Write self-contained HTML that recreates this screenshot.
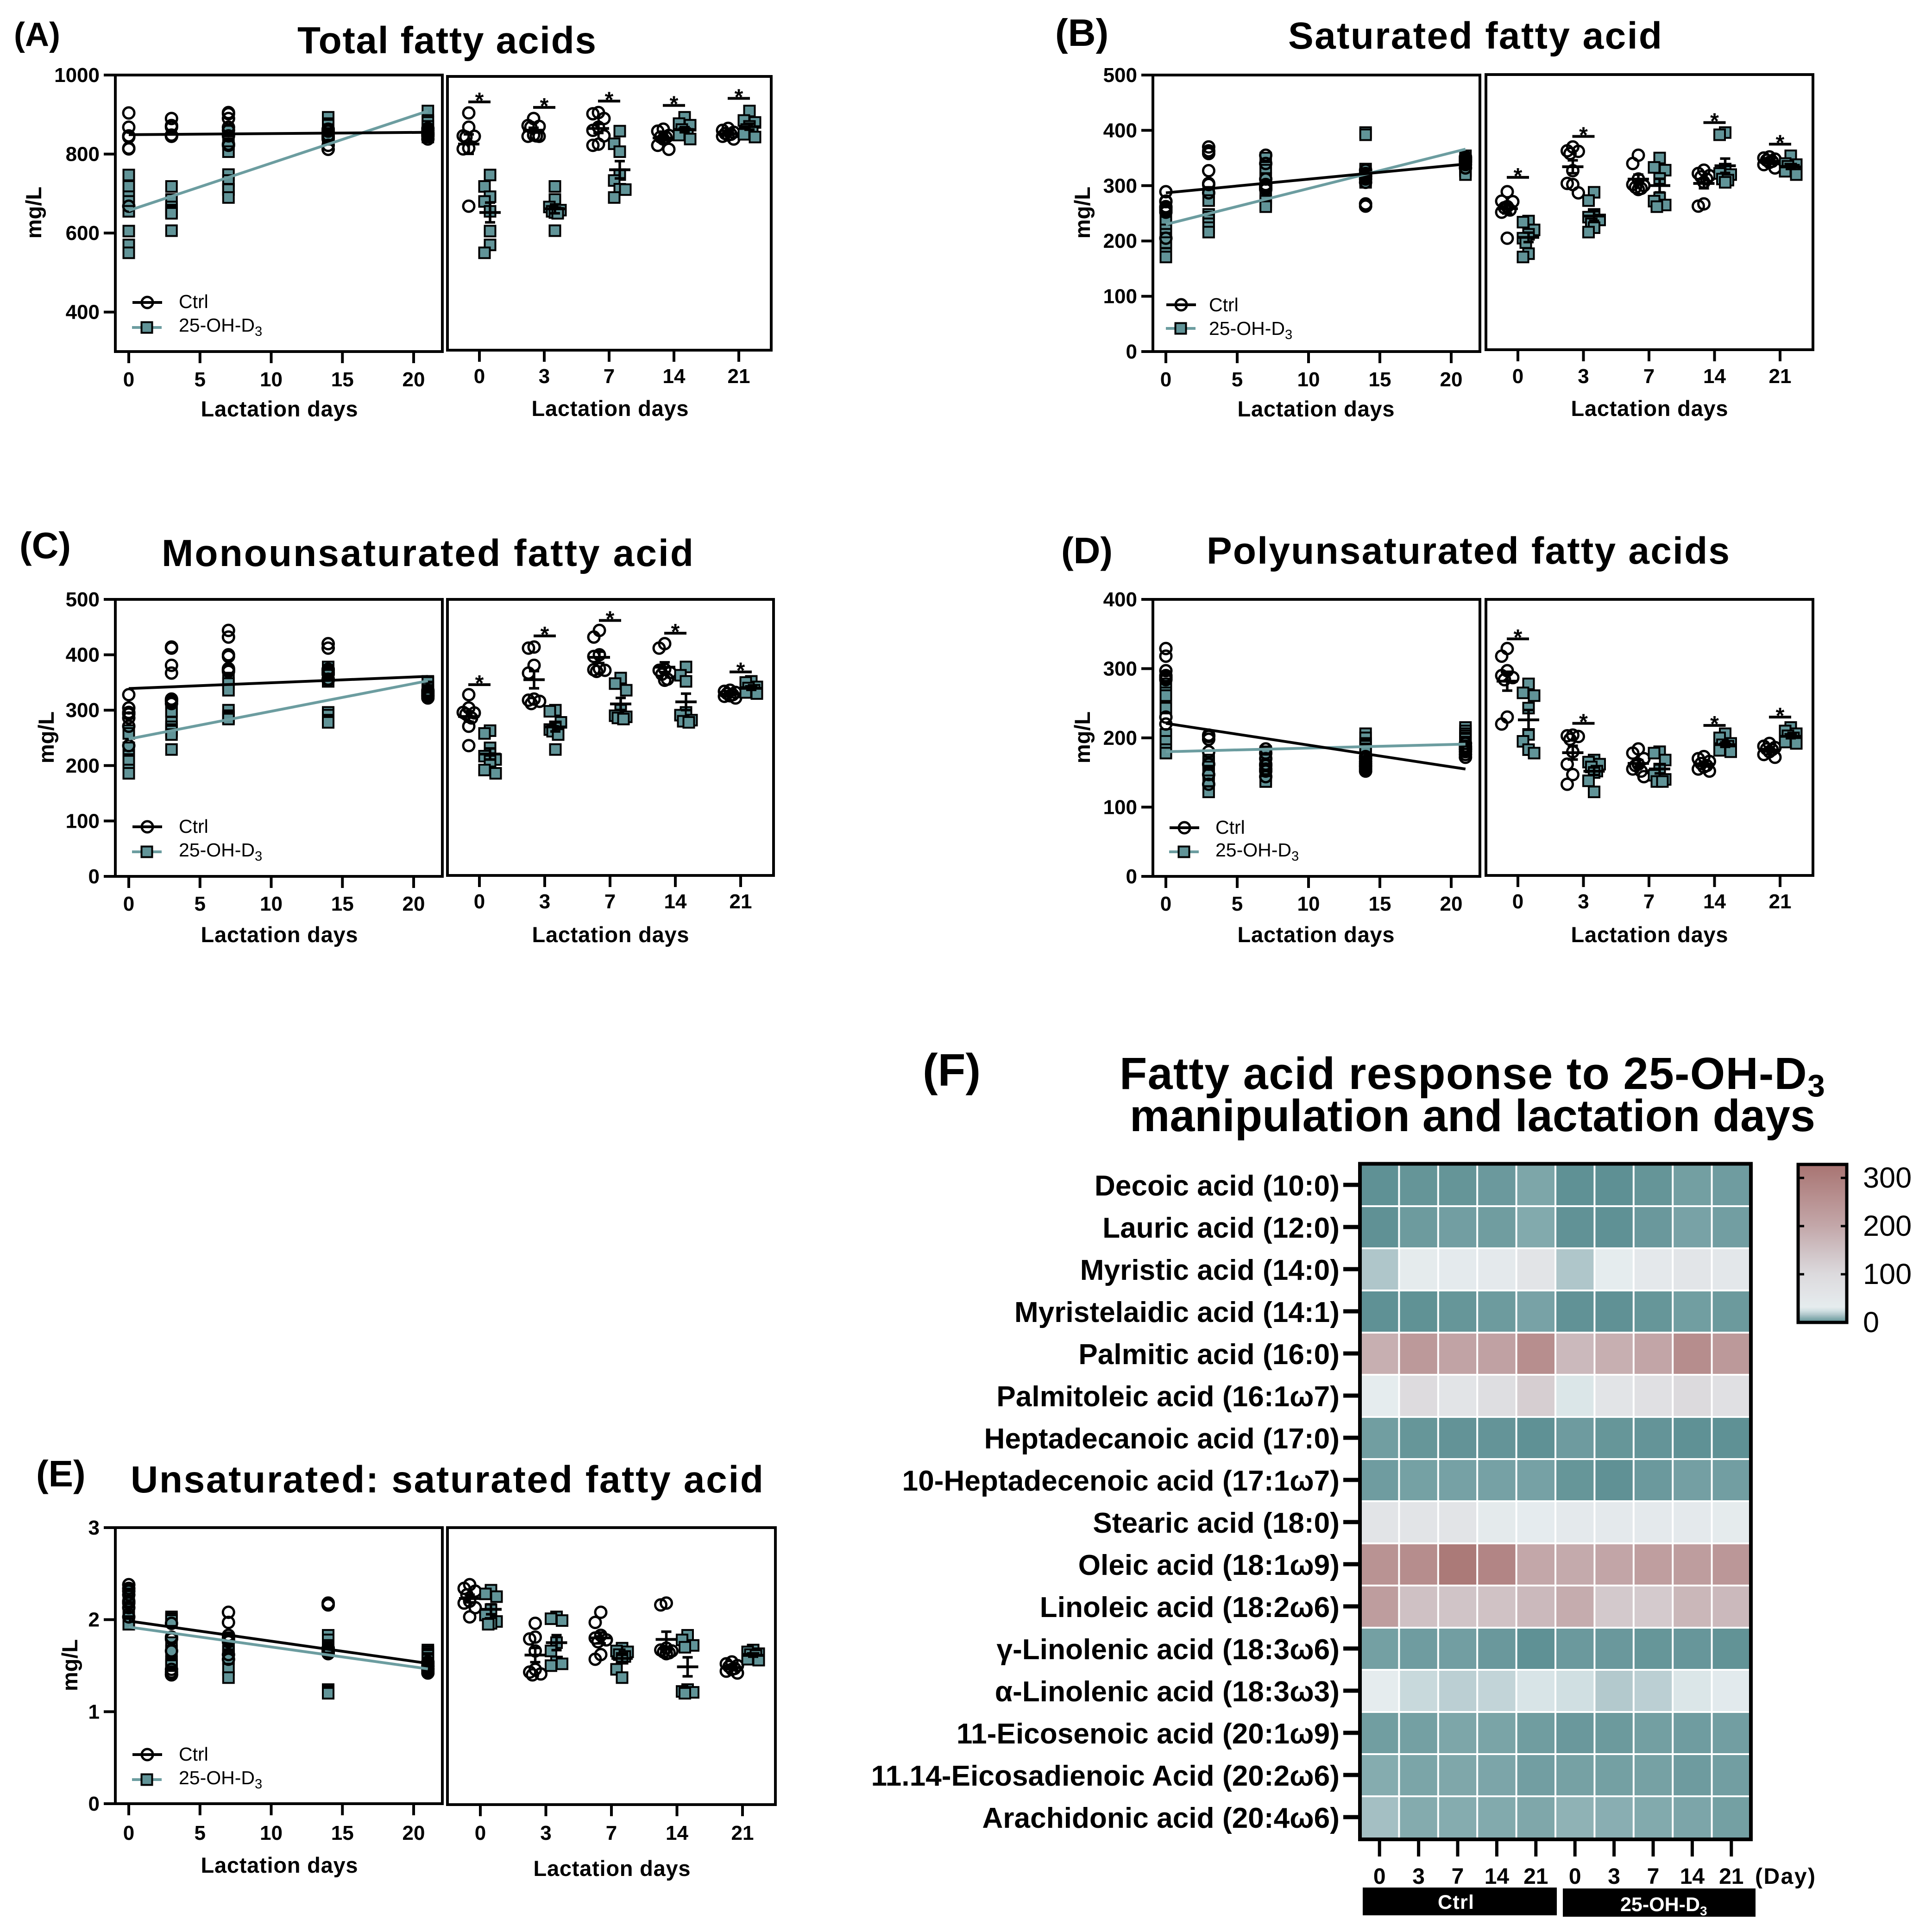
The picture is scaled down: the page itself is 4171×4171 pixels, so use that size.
<!DOCTYPE html>
<html lang="en">
<head>
<meta charset="utf-8">
<title>Milk fatty acid response to 25-OH-D3 and lactation days</title>
<style>
html,body{margin:0;padding:0;background:#fff;}
svg{display:block;}
text{font-family:"Liberation Sans",Arial,sans-serif;fill:#000;}
.t{font-weight:700;font-size:82px;}
.ax{font-weight:700;font-size:47px;}
.lg{font-size:41px;}
.pl{font-weight:700;}
</style>
</head>
<body>
<svg id="figure" xmlns="http://www.w3.org/2000/svg" width="4171" height="4171" viewBox="0 0 4171 4171">
<defs><linearGradient id="cbGrad" x1="0" y1="1" x2="0" y2="0"></linearGradient></defs>
<rect x="0" y="0" width="4171" height="4171" fill="#fff"/>

<text class="pl" font-size="72" x="30" y="99">(A)</text>
<text class="t" x="642" y="115" textLength="645">Total fatty acids</text>
<text class="ax" transform="translate(89,459) rotate(-90)" text-anchor="middle">mg/L</text>
<text class="ax" x="603" y="899" text-anchor="middle" textLength="339">Lactation days</text>
<text class="ax" x="1317" y="898" text-anchor="middle" textLength="339">Lactation days</text>

<text class="pl" font-size="83" x="2278" y="99">(B)</text>
<text class="t" x="2781" y="105" textLength="807">Saturated fatty acid</text>
<text class="ax" transform="translate(2353,459) rotate(-90)" text-anchor="middle">mg/L</text>
<text class="ax" x="2841" y="899" text-anchor="middle" textLength="339">Lactation days</text>
<text class="ax" x="3561" y="898" text-anchor="middle" textLength="339">Lactation days</text>

<text class="pl" font-size="80" x="42" y="1205">(C)</text>
<text class="t" x="349" y="1222" textLength="1148">Monounsaturated fatty acid</text>
<text class="ax" transform="translate(116,1592) rotate(-90)" text-anchor="middle">mg/L</text>
<text class="ax" x="603" y="2034" text-anchor="middle" textLength="339">Lactation days</text>
<text class="ax" x="1318" y="2034" text-anchor="middle" textLength="339">Lactation days</text>

<text class="pl" font-size="80" x="2291" y="1216">(D)</text>
<text class="t" x="2605" y="1217" textLength="1129">Polyunsaturated fatty acids</text>
<text class="ax" transform="translate(2353,1592) rotate(-90)" text-anchor="middle">mg/L</text>
<text class="ax" x="2841" y="2034" text-anchor="middle" textLength="339">Lactation days</text>
<text class="ax" x="3561" y="2034" text-anchor="middle" textLength="339">Lactation days</text>

<text class="pl" font-size="80" x="78" y="3209">(E)</text>
<text class="t" x="282" y="3222" textLength="1366">Unsaturated: saturated fatty acid</text>
<text class="ax" transform="translate(167,3595) rotate(-90)" text-anchor="middle">mg/L</text>
<text class="ax" x="603" y="4043" text-anchor="middle" textLength="339">Lactation days</text>
<text class="ax" x="1321" y="4050" text-anchor="middle" textLength="339">Lactation days</text>

<g><text class="lg" x="386" y="665">Ctrl</text><text class="lg" x="386" y="716">25-OH-D<tspan font-size="29" dy="9">3</tspan></text></g>
<g><text class="lg" x="2610" y="672">Ctrl</text><text class="lg" x="2610" y="723">25-OH-D<tspan font-size="29" dy="9">3</tspan></text></g>
<g><text class="lg" x="386" y="1798">Ctrl</text><text class="lg" x="386" y="1849">25-OH-D<tspan font-size="29" dy="9">3</tspan></text></g>
<g><text class="lg" x="2624" y="1800">Ctrl</text><text class="lg" x="2624" y="1849">25-OH-D<tspan font-size="29" dy="9">3</tspan></text></g>
<g><text class="lg" x="386" y="3801">Ctrl</text><text class="lg" x="386" y="3852">25-OH-D<tspan font-size="29" dy="9">3</tspan></text></g>

<text x="1992" y="2344" font-weight="700" font-size="98">(F)</text>
<text x="2417" y="2351" font-weight="700" font-size="97" letter-spacing="1.35">Fatty acid response to 25-OH-D<tspan font-size="68" dy="16">3</tspan></text>
<text x="2439" y="2442" font-weight="700" font-size="97" textLength="1480">manipulation and lactation days</text>
<text x="3789" y="4067" font-weight="700" font-size="48" textLength="130">(Day)</text>
<rect x="2942" y="4075" width="419" height="60" fill="#000"/>
<rect x="3374" y="4077" width="416" height="61" fill="#000"/>
<text x="3143" y="4121" text-anchor="middle" font-weight="700" font-size="43" textLength="78" style="fill:#fff">Ctrl</text>
<text x="3498" y="4126" font-weight="700" font-size="43" style="fill:#fff">25-OH-D<tspan font-size="28" dy="9">3</tspan></text>
</svg>

<script>
// ---------- shared categories ----------
const days = [0, 3, 7, 14, 21];
const dayLabels = ['0', '3', '7', '14', '21'];
const leftXTicks = [0, 5, 10, 15, 20];

// ---------- (A) total fatty acids ----------
const totalCtrl = [[904,868,846,845,843,815,813,668],[890,872,870,868,848,846,845,845],[905,902,890,868,860,846,825,822],[863,858,847,843,842,838,822,812],[865,860,855,852,850,848,845,838]];
const totalTrt = [[747,718,692,680,655,605,570,550],[718,685,666,658,655,652,650,606],[858,826,806,748,733,711,710,690],[893,877,873,862,852,850,848,838],[909,885,880,870,862,855,850,843]];
const totalCtrlFit = [849, 855];
const totalTrtFit = [657, 909];
const totalSig = [932, 918, 934, 923, 941];
const totalYTicks = [400, 600, 800, 1000];

// ---------- (B) saturated ----------
const satCtrl = [[289,272,271,262,260,256,252,205],[370,363,362,358,327,304,302,287],[355,340,312,302,300,297,295,293],[328,322,318,316,312,306,267,263],[352,350,348,346,344,342,338,332]];
const satTrt = [[236,234,220,212,205,197,177,171],[288,273,248,243,238,231,224,216],[350,333,328,313,278,272,265,262],[396,392,330,322,320,312,310,306],[354,340,338,335,330,328,326,320]];
const satCtrlFit = [287, 339];
const satTrtFit = [230, 366];
const satSig = [315, 389, null, 414, 375];
const satYTicks = [0, 100, 200, 300, 400, 500];

// ---------- (C) monounsaturated ----------
const monoCtrl = [[328,304,296,295,293,286,271,236],[414,412,381,367,320,318,316,312],[444,432,400,397,375,373,372,370],[420,412,374,372,368,365,356,354],[336,334,332,330,328,326,325,322]];
const monoTrt = [[263,258,232,217,211,208,192,186],[300,298,278,270,265,262,256,229],[358,348,336,300,290,288,286,284],[378,363,352,296,291,282,280,278],[352,350,342,340,336,334,332,330]];
const monoCtrlFit = [339, 361];
const monoTrtFit = [248, 353];
const monoSig = [346, 434, 462, 439, 369];
const monoYTicks = [0, 100, 200, 300, 400, 500];

// ---------- (D) polyunsaturated ----------
const polyCtrl = [[329,318,297,290,287,284,230,220],[204,203,202,198,180,162,147,133],[184,178,170,162,160,155,152,144],[173,170,166,163,160,158,155,152],[192,188,186,184,183,180,176,172]];
const polyTrt = [[278,265,261,243,205,195,183,178],[168,165,162,158,152,150,138,122],[180,178,168,155,146,140,137,137],[206,200,192,190,188,184,182,180],[215,210,206,203,200,198,194,192]];
const polyCtrlFit = [221, 155];
const polyTrtFit = [180, 191];
const polySig = [343, 221, null, 218, 230];
const polyYTicks = [0, 100, 200, 300, 400];

// ---------- (E) unsaturated : saturated ----------
const ratioCtrl = [[2.38,2.34,2.31,2.27,2.20,2.18,2.13,2.03],[1.96,1.81,1.79,1.66,1.46,1.43,1.41,1.40],[2.08,1.97,1.83,1.80,1.78,1.76,1.62,1.57],[2.18,2.16,1.69,1.67,1.66,1.65,1.64,1.63],[1.54,1.52,1.50,1.49,1.47,1.46,1.44,1.42]];
const ratioTrt = [[2.32,2.28,2.25,2.11,2.05,1.98,1.96,1.95],[2.03,2.01,1.99,1.75,1.66,1.54,1.52,1.50],[1.69,1.66,1.65,1.62,1.60,1.58,1.46,1.37],[1.83,1.78,1.72,1.70,1.24,1.22,1.21,1.20],[1.67,1.65,1.63,1.62,1.61,1.58,1.57,1.56]];
const ratioCtrlFit = [1.985, 1.525];
const ratioTrtFit = [1.92, 1.465];
const ratioSig = [null, null, null, null, null];
const ratioYTicks = [0, 1, 2, 3];

// ---------- (F) heatmap ----------
const acidNames = ['Decoic acid (10:0)','Lauric acid (12:0)','Myristic acid (14:0)','Myristelaidic acid (14:1)','Palmitic acid (16:0)','Palmitoleic acid (16:1ω7)','Heptadecanoic acid (17:0)','10-Heptadecenoic acid (17:1ω7)','Stearic acid (18:0)','Oleic acid (18:1ω9)','Linoleic acid (18:2ω6)','γ-Linolenic acid (18:3ω6)','α-Linolenic acid (18:3ω3)','11-Eicosenoic acid (20:1ω9)','11.14-Eicosadienoic Acid (20:2ω6)','Arachidonic acid (20:4ω6)'];
const heatDayLabels = ['0','3','7','14','21','0','3','7','14','21'];
const heatValues = [
[1,2,2,3.2,6.7,1,0.8,2,4.8,4],
[1.1,3.6,4.6,4.2,7.6,1.3,1,3,5.7,4.6],
[16,36,38,42,60,16,32,45,58,50],
[1,1.2,2.3,3.6,5.7,1.3,1.1,2.3,4.4,3.4],
[185,235,210,215,262,165,185,205,265,235],
[32,95,62,85,125,28,60,75,100,75],
[4.4,2.3,1.7,1.9,1,3.8,2.3,1.9,1,1],
[4,5.2,5.4,5.4,5.4,2.3,1.1,3.2,4.9,4.6],
[62,60,60,40,34,42,42,42,42,36],
[250,265,315,285,200,195,205,222,225,240],
[225,150,145,148,165,190,135,132,170,165],
[5,4,4.6,3,1,3.2,3,2.3,2.5,1.5],
[32,22,19,20.5,27,24,17,19,28,31],
[4.4,5,6.7,6,4.2,3,3.4,4.8,4,4.6],
[8.2,6.3,7,6.5,4.6,5.3,5,5.3,3.8,4.6],
[14,8,8.2,7.7,7,10,9,7.7,6.5,5]
];
const colorbarTicks = [0, 100, 200, 300];
const colorStopValues = [0, 8, 16, 24, 32, 60, 100, 150, 200, 260, 330];
const colorStopColors = ['#5a8d91','#84abae','#afc6ca','#d0dfe2','#e5ecee','#e2e4e7','#dcdadd','#cfc1c4','#c3a7a9','#b78f8f','#a87472'];

// ---------- drawing ----------
const NS = 'http://www.w3.org/2000/svg';
const svg = document.getElementById('figure');
const TEAL = '#619498';
const TEAL_LINE = '#6c9da0';
const R_CIRCLE = 12;
const SQ = 23;

function mk(tag, attrs, parent) {
  const node = document.createElementNS(NS, tag);
  for (const k in attrs) node.setAttribute(k, attrs[k]);
  parent.appendChild(node);
  return node;
}
function mean(a) { return a.reduce(function (s, v) { return s + v; }, 0) / a.length; }
function sem(a) {
  const m = mean(a);
  const ss = a.reduce(function (s, v) { return s + (v - m) * (v - m); }, 0);
  return Math.sqrt(ss / (a.length - 1)) / Math.sqrt(a.length);
}
// Lane-based swarm: a point takes the first lane with vertical clearance,
// otherwise the lane whose nearest neighbour is farthest away.
function swarm(vals, yFn) {
  const lanes = [0, -12, 12, -6, 6], clearance = 28, placed = [], out = [];
  const order = vals.map(function (v, i) { return i; }).sort(function (a, b) { return vals[b] - vals[a]; });
  order.forEach(function (i) {
    const y = yFn(vals[i]);
    let dx = 0, bestGap = -1;
    for (let c = 0; c < lanes.length; c++) {
      let gap = Infinity;
      placed.forEach(function (p) {
        if (p[0] === lanes[c]) gap = Math.min(gap, Math.abs(p[1] - y));
      });
      if (gap >= clearance) { dx = lanes[c]; bestGap = gap; break; }
      if (gap > bestGap) { dx = lanes[c]; bestGap = gap; }
    }
    placed.push([dx, y]);
    out.push({ v: vals[i], dx: dx });
  });
  return out;
}
function drawCircle(parent, x, y, name) {
  const el = mk('circle', { cx: x, cy: y, r: R_CIRCLE, fill: 'none', stroke: '#000', 'stroke-width': 5 }, parent);
  
  
}
function drawSquare(parent, x, y, name) {
  const el = mk('rect', { x: x - SQ / 2, y: y - SQ / 2, width: SQ, height: SQ, fill: TEAL, stroke: '#000', 'stroke-width': 4 }, parent);
  
  
}
function drawSeg(parent, x1, y1, x2, y2, w, col, name) {
  const el = mk('line', { x1: x1, y1: y1, x2: x2, y2: y2, stroke: col, 'stroke-width': w }, parent);
  
  
}
function drawLabel(parent, x, y, str, size, anchor, name) {
  const el = mk('text', { x: x, y: y, 'font-size': size, 'font-weight': 700, 'text-anchor': anchor }, parent);
  el.textContent = str;
  
  
}

function drawPanel(cfg) {
  const g = mk('g', {}, svg);
  
  
  const yL = function (v) { return cfg.bottom - (v - cfg.min) / (cfg.max - cfg.min) * (cfg.bottom - cfg.top); };
  const xL = function (d) { return cfg.x0 + d * cfg.xStep; };
  const xR = function (i) { return cfg.rx0 + i * cfg.rStep; };

  // left plot: treatment then control points, then fit lines
  days.forEach(function (d, i) {
    cfg.trt[i].forEach(function (v) { drawSquare(g, xL(d), yL(v), cfg.id + '-left-trt-point-day-' + d); });
  });
  days.forEach(function (d, i) {
    cfg.ctrl[i].forEach(function (v) { drawCircle(g, xL(d), yL(v), cfg.id + '-left-ctrl-point-day-' + d); });
  });
  drawSeg(g, xL(0), yL(cfg.trtFit[0]), xL(21), yL(cfg.trtFit[1]), 6, TEAL_LINE, cfg.id + '-trt-fit-line');
  drawSeg(g, xL(0), yL(cfg.ctrlFit[0]), xL(21), yL(cfg.ctrlFit[1]), 6, '#000', cfg.id + '-ctrl-fit-line');

  // left frame + axes
  const frameL = mk('rect', { x: cfg.leftL, y: cfg.top, width: cfg.leftR - cfg.leftL, height: cfg.bottom - cfg.top, fill: 'none', stroke: '#000', 'stroke-width': 6 }, g);
  
  
  cfg.yTicks.forEach(function (t) {
    drawSeg(g, cfg.leftL - 25, yL(t), cfg.leftL, yL(t), 6, '#000', cfg.id + '-y-tick-' + t);
    drawLabel(g, cfg.leftL - 34, yL(t) + 15, String(t), 44, 'end', cfg.id + '-y-tick-label-' + t);
  });
  leftXTicks.forEach(function (t) {
    drawSeg(g, xL(t), cfg.bottom, xL(t), cfg.bottom + 25, 6, '#000', cfg.id + '-left-x-tick-' + t);
    drawLabel(g, xL(t), cfg.tickBase, String(t), 44, 'middle', cfg.id + '-left-x-tick-label-' + t);
  });

  // right plot: swarm, mean and SEM
  days.forEach(function (d, i) {
    const cx = xR(i) - 23, tx = xR(i) + 23;
    swarm(cfg.ctrl[i], yL).forEach(function (p) { drawCircle(g, cx + p.dx, yL(p.v), cfg.id + '-right-ctrl-point-day-' + d); });
    swarm(cfg.trt[i], yL).forEach(function (p) { drawSquare(g, tx + p.dx, yL(p.v), cfg.id + '-right-trt-point-day-' + d); });
    [[cfg.ctrl[i], cx, 'ctrl'], [cfg.trt[i], tx, 'trt']].forEach(function (s) {
      const m = mean(s[0]), e = sem(s[0]);
      drawSeg(g, s[1] - 23, yL(m), s[1] + 23, yL(m), 6, '#000', cfg.id + '-' + s[2] + '-mean-day-' + d);
      drawSeg(g, s[1], yL(m - e), s[1], yL(m + e), 5.5, '#000', cfg.id + '-' + s[2] + '-error-bar-day-' + d);
      drawSeg(g, s[1] - 11, yL(m + e), s[1] + 11, yL(m + e), 5.5, '#000', cfg.id + '-' + s[2] + '-error-cap-upper-day-' + d);
      drawSeg(g, s[1] - 11, yL(m - e), s[1] + 11, yL(m - e), 5.5, '#000', cfg.id + '-' + s[2] + '-error-cap-lower-day-' + d);
    });
    if (cfg.sig[i] !== null) {
      drawSeg(g, xR(i) - 24, yL(cfg.sig[i]), xR(i) + 24, yL(cfg.sig[i]), 6, '#000', cfg.id + '-significance-bar-day-' + d);
      drawLabel(g, xR(i), yL(cfg.sig[i]) + 13, '*', 48, 'middle', cfg.id + '-significance-star-day-' + d);
    }
    drawSeg(g, xR(i), cfg.rBottom, xR(i), cfg.rBottom + 25, 6, '#000', cfg.id + '-right-x-tick-day-' + d);
    drawLabel(g, xR(i), cfg.rTickBase, dayLabels[i], 44, 'middle', cfg.id + '-right-x-tick-label-day-' + d);
  });
  const frameR = mk('rect', { x: cfg.rightL, y: cfg.rTop, width: cfg.rightR - cfg.rightL, height: cfg.rBottom - cfg.rTop, fill: 'none', stroke: '#000', 'stroke-width': 6 }, g);
  
  

  // legend glyphs
  drawSeg(g, cfg.lgMark - 32, cfg.lgY1, cfg.lgMark + 32, cfg.lgY1, 6, '#000', cfg.id + '-legend-ctrl-line');
  drawCircle(g, cfg.lgMark, cfg.lgY1, cfg.id + '-legend-ctrl-marker');
  drawSeg(g, cfg.lgMark - 33, cfg.lgY2, cfg.lgMark + 31, cfg.lgY2, 6, TEAL_LINE, cfg.id + '-legend-trt-line');
  drawSquare(g, cfg.lgMark - 1, cfg.lgY2, cfg.id + '-legend-trt-marker');
}

drawPanel({ id:'a', ctrl:totalCtrl, trt:totalTrt, ctrlFit:totalCtrlFit, trtFit:totalTrtFit, sig:totalSig, yTicks:totalYTicks, min:300, max:1000,
  top:162, bottom:759, leftL:249, leftR:955, x0:278, xStep:30.75, tickBase:834, rightL:966, rightR:1665, rTop:165, rBottom:756, rx0:1035, rStep:140, rTickBase:827, lgMark:318, lgY1:653, lgY2:707 });
drawPanel({ id:'b', ctrl:satCtrl, trt:satTrt, ctrlFit:satCtrlFit, trtFit:satTrtFit, sig:satSig, yTicks:satYTicks, min:0, max:500,
  top:162, bottom:759, leftL:2489, leftR:3195, x0:2517, xStep:30.8, tickBase:834, rightL:3208, rightR:3914, rTop:161, rBottom:755, rx0:3277, rStep:141.5, rTickBase:827, lgMark:2550, lgY1:658, lgY2:709 });
drawPanel({ id:'c', ctrl:monoCtrl, trt:monoTrt, ctrlFit:monoCtrlFit, trtFit:monoTrtFit, sig:monoSig, yTicks:monoYTicks, min:0, max:500,
  top:1294, bottom:1892, leftL:249, leftR:955, x0:278, xStep:30.75, tickBase:1966, rightL:966, rightR:1670, rTop:1294, rBottom:1890, rx0:1035, rStep:141, rTickBase:1961, lgMark:318, lgY1:1785, lgY2:1839 });
drawPanel({ id:'d', ctrl:polyCtrl, trt:polyTrt, ctrlFit:polyCtrlFit, trtFit:polyTrtFit, sig:polySig, yTicks:polyYTicks, min:0, max:400,
  top:1294, bottom:1892, leftL:2489, leftR:3195, x0:2517, xStep:30.8, tickBase:1966, rightL:3208, rightR:3914, rTop:1294, rBottom:1890, rx0:3277, rStep:141.5, rTickBase:1961, lgMark:2557, lgY1:1787, lgY2:1839 });
drawPanel({ id:'e', ctrl:ratioCtrl, trt:ratioTrt, ctrlFit:ratioCtrlFit, trtFit:ratioTrtFit, sig:ratioSig, yTicks:ratioYTicks, min:0, max:3,
  top:3298, bottom:3894, leftL:249, leftR:955, x0:278, xStep:30.75, tickBase:3972, rightL:966, rightR:1674, rTop:3298, rBottom:3896, rx0:1037, rStep:141.5, rTickBase:3972, lgMark:318, lgY1:3788, lgY2:3842 });

// ---------- heatmap ----------
function hexToRgb(h) { return [parseInt(h.substr(1, 2), 16), parseInt(h.substr(3, 2), 16), parseInt(h.substr(5, 2), 16)]; }
function colorFor(v) {
  const s = colorStopValues;
  if (v <= s[0]) return colorStopColors[0];
  for (let i = 1; i < s.length; i++) {
    if (v <= s[i]) {
      const f = (v - s[i - 1]) / (s[i] - s[i - 1]);
      const a = hexToRgb(colorStopColors[i - 1]), b = hexToRgb(colorStopColors[i]);
      return 'rgb(' + a.map(function (c, k) { return Math.round(c + (b[k] - c) * f); }).join(',') + ')';
    }
  }
  return colorStopColors[s.length - 1];
}
const hm = mk('g', {}, svg);


const colX = function (i) { return 2936 + i * 84.4; };
const rowY = function (i) { return 2513 + i * 91; };
heatValues.forEach(function (row, r) {
  row.forEach(function (v, c) {
    const cell = mk('rect', { x: colX(c) + 2, y: rowY(r) + 2, width: 80.4, height: 87, fill: colorFor(v) }, hm);
    
    
  });
  const cy = rowY(r) + 45;
  drawSeg(hm, 2900, cy, 2934, cy, 9, '#000', 'heat-row-tick-' + r);
  const lab = mk('text', { x: 2892, y: cy + 23, 'font-size': 62, 'font-weight': 700, 'text-anchor': 'end', 'letter-spacing': 0.1 }, hm);
  lab.textContent = acidNames[r];
  
  
});
heatDayLabels.forEach(function (t, c) {
  const cx = colX(c) + 42.2;
  drawSeg(hm, cx, 3974, cx, 4008, 7, '#000', 'heat-col-tick-' + c);
  drawLabel(hm, cx, 4067, t, 48, 'middle', 'heat-col-label-' + c);
});
const hmFrame = mk('rect', { x: 2936, y: 2512.5, width: 844, height: 1458.5, fill: 'none', stroke: '#000', 'stroke-width': 8 }, hm);



// ---------- colorbar ----------
const cb = mk('g', {}, svg);


const cbY = function (v) { return 2855 - 1.04 * v; };
const grad = document.getElementById('cbGrad');
const cbMax = 328;
colorStopValues.forEach(function (v, i) {
  const st = mk('stop', { offset: Math.min(1, v / cbMax), 'stop-color': colorStopColors[i] }, grad);
  
  
});
const cbRect = mk('rect', { x: 3882, y: cbY(cbMax), width: 105, height: cbY(0) - cbY(cbMax), fill: 'url(#cbGrad)', stroke: '#000', 'stroke-width': 7 }, cb);


colorbarTicks.forEach(function (t) {
  if (t > 0) {
    drawSeg(cb, 3882, cbY(t), 3895, cbY(t), 5, '#000', 'colorbar-tick-left-' + t);
    drawSeg(cb, 3974, cbY(t), 3987, cbY(t), 5, '#000', 'colorbar-tick-right-' + t);
  }
  const lab = mk('text', { x: 4022, y: cbY(t) + 21, 'font-size': 63 }, cb);
  lab.textContent = String(t);
  
  
});
</script>
</body>
</html>
